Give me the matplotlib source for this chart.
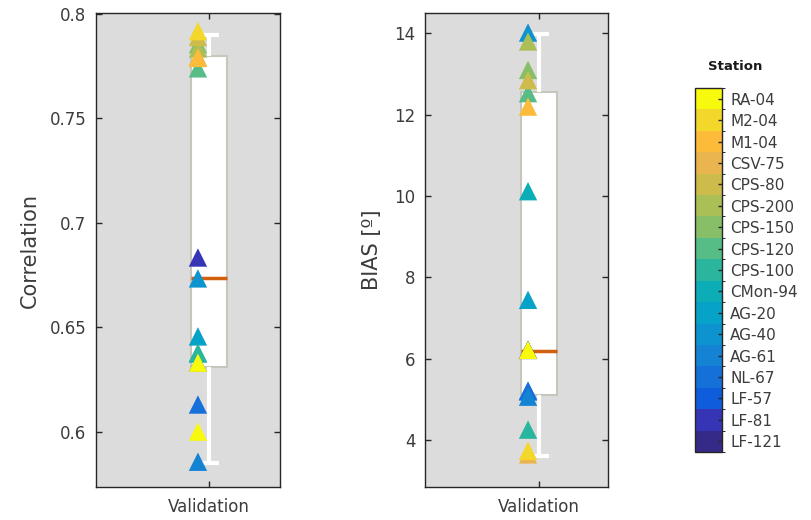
import matplotlib
matplotlib.use("Agg")
import matplotlib.pyplot as plt
from matplotlib.colors import ListedColormap, BoundaryNorm
import matplotlib.colorbar as mcolorbar

plt.rcParams['font.family'] = ['DejaVu Sans']

# Stations (bottom to top of the colour bar) and their colours
stations = ["LF-121", "LF-81", "LF-57", "NL-67", "AG-61", "AG-40", "AG-20",
            "CMon-94", "CPS-100", "CPS-120", "CPS-150", "CPS-200", "CPS-80",
            "CSV-75", "M1-04", "M2-04", "RA-04"]
station_colors = ["#352A87", "#3535B5", "#0F5CDD", "#1570DA", "#1483D4", "#0D93D0",
                  "#07A2C8", "#0CADB6", "#2AB69E", "#55BD85", "#86BF68", "#AABF55",
                  "#CDBB4B", "#EAB44E", "#FDBB3A", "#F3D82B", "#F8FA0D"]

category = "Validation"

# Correlation panel: station of each point and its value
corr_station = ["LF-81", "LF-57", "NL-67", "AG-61", "AG-40", "AG-20", "CMon-94",
                "CPS-100", "CPS-120", "CPS-150", "CPS-200", "CPS-80", "CSV-75",
                "M1-04", "M2-04", "RA-04", "RA-04"]
corr_values = [0.6834, 0.633, 0.613, 0.5856, 0.6734, 0.6456, 0.6374,
               0.6378, 0.774, 0.7855, 0.7835, 0.789, 0.7795,
               0.779, 0.7918, 0.633, 0.600]
corr_box = dict(med=0.6735, q1=0.631, q3=0.780, whislo=0.585, whishi=0.790)

# BIAS panel
bias_station = ["LF-121", "LF-81", "LF-57", "NL-67", "AG-61", "AG-40", "AG-20",
                "CMon-94", "CPS-100", "CPS-120", "CPS-150", "CPS-200", "CPS-80",
                "CSV-75", "M1-04", "M2-04", "RA-04"]
bias_values = [6.22, 6.22, 5.20, 5.22, 5.07, 14.02, 7.45,
               10.12, 4.26, 12.53, 13.10, 13.80, 12.85,
               3.65, 12.20, 3.74, 6.22]
bias_box = dict(med=6.20, q1=5.10, q3=12.55, whislo=3.60, whishi=13.98)

corr_ticks = [0.6, 0.65, 0.7, 0.75, 0.8]
corr_ticklabels = ["0.6", "0.65", "0.7", "0.75", "0.8"]
bias_ticks = [4, 6, 8, 10, 12, 14]

W, H = 811, 520
fig = plt.figure(figsize=(W / 100, H / 100), dpi=100)

text_color = "#3C3C3C"
bg = "#DCDCDC"


def panel(rect, values, st, box, ylim, yticks, yticklabels, ylabel, xlim, label_x):
    ax = fig.add_axes(rect)
    ax.set_facecolor(bg)
    stats = [dict(box, label=category)]
    ax.bxp(stats, positions=[1], widths=0.2, capwidths=[0.11], showfliers=False,
           patch_artist=True,
           boxprops=dict(facecolor="white", edgecolor="#C6C6BC", linewidth=1.5),
           whiskerprops=dict(color="white", linewidth=3, solid_capstyle="butt"),
           capprops=dict(color="white", linewidth=3, solid_capstyle="butt"),
           medianprops=dict(color="#D0600E", linewidth=2.5, solid_capstyle="butt"))
    idx = [stations.index(s) for s in st]
    order = sorted(range(len(values)), key=lambda i: idx[i])
    for i in order:
        ax.scatter([1 - 0.06], [values[i]], marker="^", s=175,
                   color=station_colors[idx[i]], edgecolors="none", zorder=5)
    ax.set_xlim(*xlim)
    ax.set_ylim(*ylim)
    ax.set_yticks(yticks)
    ax.set_yticklabels(yticklabels)
    ax.set_xticks([1])
    ax.set_xticklabels([category])
    ax.tick_params(direction="in", length=4, width=1, top=True, right=True,
                   colors="#262626", labelcolor=text_color, labelsize=12)
    ax.tick_params(axis="x", pad=8)
    ax.tick_params(axis="y", pad=7)
    for sp in ax.spines.values():
        sp.set_color("#262626")
        sp.set_linewidth(1)
    ax.set_ylabel(ylabel, fontsize=15, color=text_color)
    ax.yaxis.set_label_coords(label_x, 0.5)
    return ax


ax1 = panel([96 / W, 33 / H, 184 / W, 474 / H], corr_values, corr_station, corr_box,
            (0.5735, 0.8005), corr_ticks, corr_ticklabels, "Correlation",
            (0.386, 1.386), -0.305)
ax2 = panel([425 / W, 33 / H, 183 / W, 474 / H], bias_values, bias_station, bias_box,
            (2.85, 14.5), bias_ticks, [str(t) for t in bias_ticks], "BIAS [º]",
            (0.377, 1.377), -0.235)

# Colour bar
cax = fig.add_axes([695 / W, 68 / H, 27 / W, 364 / H])
cmap = ListedColormap(station_colors)
norm = BoundaryNorm(list(range(len(stations) + 1)), cmap.N)
cb = mcolorbar.ColorbarBase(cax, cmap=cmap, norm=norm, orientation="vertical",
                            ticks=[i + 0.5 for i in range(len(stations))])
cb.set_ticklabels(stations)
cb.outline.set_linewidth(1)
cb.outline.set_edgecolor("#262626")
cax.tick_params(direction="in", length=3, width=1, colors="#262626",
                labelcolor=text_color, labelsize=11, pad=6)
fig.text(735 / W, 1 - 66 / H, "Station", fontsize=9.5, fontweight="bold",
         color="#1A1A1A", ha="center", va="center")

fig.savefig("out.png", dpi=100)
